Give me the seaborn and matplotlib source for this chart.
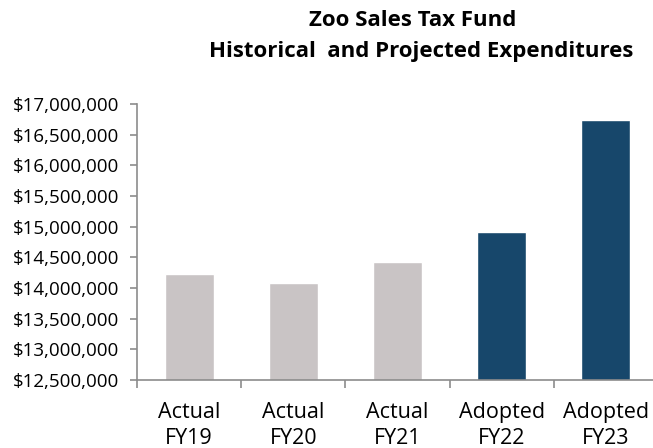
import matplotlib
matplotlib.use("Agg")
import matplotlib.pyplot as plt
import seaborn as sns
import pandas as pd
from matplotlib.ticker import FuncFormatter, MultipleLocator, FixedLocator

categories = ["Actual\nFY19", "Actual\nFY20", "Actual\nFY21", "Adopted\nFY22", "Adopted\nFY23"]
status = ["Actual", "Actual", "Actual", "Adopted", "Adopted"]
expenditures = [14230000, 14080000, 14420000, 14910000, 16740000]
palette = {"Actual": "#C9C4C5", "Adopted": "#17476B"}

df = pd.DataFrame({"year": categories, "status": status, "amount": expenditures})

sns.set_theme(style="white")
plt.rcParams["font.family"] = ["Open Sans", "DejaVu Sans"]
plt.rcParams["text.color"] = "black"

fig = plt.figure(figsize=(6.53, 4.48), dpi=100)
ax = fig.add_axes([137 / 653, 1 - 380 / 448, (658 - 137) / 653, (380 - 104) / 448])

sns.barplot(data=df, x="year", y="amount", hue="status", palette=palette,
            dodge=False, width=0.47, legend=False, ax=ax, saturation=1)

ax.set_ylim(12500000, 17000000)
ax.set_xlim(-0.5, 4.5)
ax.yaxis.set_major_locator(MultipleLocator(500000))
ax.yaxis.set_major_formatter(FuncFormatter(lambda v, p: f"${v:,.0f}"))
ax.set_xlabel("")
ax.set_ylabel("")

axis_color = "#8C8C8C"
for side in ["top", "right"]:
    ax.spines[side].set_visible(False)
for side in ["left", "bottom"]:
    ax.spines[side].set_color(axis_color)
    ax.spines[side].set_linewidth(1.2)

ax.tick_params(axis="y", which="major", direction="out", length=5, width=1.2,
               color=axis_color, labelsize=13.5, labelcolor="black", pad=8, left=True)
ax.tick_params(axis="x", which="major", length=0, labelsize=15.5, labelcolor="black", pad=16)
ax.xaxis.set_minor_locator(FixedLocator([-0.5, 0.5, 1.5, 2.5, 3.5, 4.5]))
ax.tick_params(axis="x", which="minor", direction="out", length=6, width=1.2,
               color=axis_color, bottom=True)
for lbl in ax.get_xticklabels():
    lbl.set_linespacing(1.3)

fig.text(0.632, 0.955, "Zoo Sales Tax Fund", ha="center", va="center",
         fontsize=16, fontweight="bold", color="black")
fig.text(0.645, 0.886, "Historical  and Projected Expenditures", ha="center", va="center",
         fontsize=16, fontweight="bold", color="black")

fig.savefig("out.png", dpi=100)
